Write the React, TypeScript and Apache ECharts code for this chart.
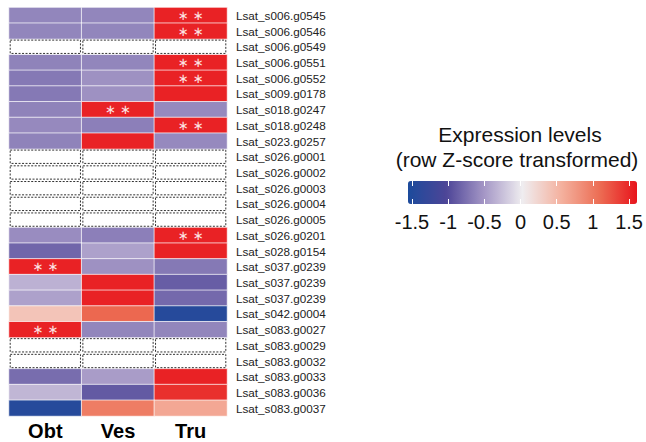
import React, { useEffect, useRef } from "react";
import * as echarts from "echarts";

const genes = [
  "Lsat_s006.g0545", "Lsat_s006.g0546", "Lsat_s006.g0549", "Lsat_s006.g0551",
  "Lsat_s006.g0552", "Lsat_s009.g0178", "Lsat_s018.g0247", "Lsat_s018.g0248",
  "Lsat_s023.g0257", "Lsat_s026.g0001", "Lsat_s026.g0002", "Lsat_s026.g0003",
  "Lsat_s026.g0004", "Lsat_s026.g0005", "Lsat_s026.g0201", "Lsat_s028.g0154",
  "Lsat_s037.g0239", "Lsat_s037.g0239", "Lsat_s037.g0239", "Lsat_s042.g0004",
  "Lsat_s083.g0027", "Lsat_s083.g0029", "Lsat_s083.g0032", "Lsat_s083.g0033",
  "Lsat_s083.g0036", "Lsat_s083.g0037",
];
const tissues = ["Obt", "Ves", "Tru"];

// null = no expression (dashed empty cell)
const obt = [-0.62, -0.62, null, -0.64, -0.7, -0.7, -0.64, -0.6, -0.64, null, null, null, null, null,
  -0.58, -0.82, 1.5, -0.35, -0.45, 0.38, 1.5, null, null, -0.78, -0.32, -1.45];
const ves = [-0.62, -0.62, null, -0.62, -0.55, -0.55, 1.5, -0.66, 1.5, null, null, null, null, null,
  -0.66, -0.45, -0.55, 1.5, 1.5, 1.1, -0.62, null, null, -0.48, -0.9, 0.95];
const tru = [1.5, 1.5, null, 1.5, 1.5, 1.5, -0.6, 1.5, -0.6, null, null, null, null, null,
  1.5, 1.5, -0.7, -0.88, -0.8, -1.45, -0.62, null, null, 1.5, 1.42, 0.62];
// tissue with significant (**) expression in each row
const significant = ["Tru", "Tru", "", "Tru", "Tru", "", "Ves", "Tru", "", "", "", "", "", "",
  "Tru", "", "Obt", "", "", "", "Obt", "", "", "", "", ""];

const scaleTicks = [-1.5, 1.5, 0.5]; // min, max, interval
const scaleColors = ["#1c4b9c", "#4d4597", "#a597c6", "#efedf0", "#f4b2a0", "#ec6f55", "#e8141c"];

export default function App() {
  const ref = useRef<HTMLDivElement>(null);
  useEffect(() => {
    document.body.style.margin = "0";
    const chart = echarts.init(ref.current!, null, { renderer: "svg" });
    const cols = [obt, ves, tru];
    const heat: any[] = [];
    const empty: any[] = [];
    genes.forEach((g, r) => {
      cols.forEach((col, c) => {
        const v = col[r];
        if (v === null) {
          empty.push([c, r]);
        } else {
          const item: any = { value: [c, r, v] };
          if (significant[r] === tissues[c]) {
            item.label = {
              show: true,
              formatter: "\u2217 \u2217",
              color: "#fde4e4",
              fontSize: 13,
              lineHeight: 12,
              fontFamily: "DejaVu Sans",
            };
          }
          heat.push(item);
        }
      });
    });
    const font = "'Liberation Sans', Arial, sans-serif";
    chart.setOption({
      animation: false,
      textStyle: { fontFamily: font },
      grid: [
        { left: 9, top: 7.5, width: 218, height: 408.5 },
        { left: 412, top: 181, width: 219, height: 23 },
      ],
      xAxis: [
        {
          gridIndex: 0, type: "category", data: tissues, position: "bottom",
          axisLine: { show: false }, axisTick: { show: false }, splitLine: { show: false },
          axisLabel: { fontSize: 20, fontWeight: "bold", color: "#000", margin: 5, fontFamily: font },
        },
        {
          gridIndex: 1, type: "value", min: scaleTicks[0], max: scaleTicks[1], interval: scaleTicks[2],
          position: "bottom", z: 10,
          axisLine: { show: false }, splitLine: { show: false },
          axisTick: { show: true, inside: true, length: 5, lineStyle: { color: "#fff", width: 1 } },
          axisLabel: { fontSize: 20, color: "#111", margin: 8, fontFamily: font },
        },
        {
          gridIndex: 1, type: "value", min: scaleTicks[0], max: scaleTicks[1], interval: scaleTicks[2],
          position: "top", z: 10,
          axisLine: { show: false }, splitLine: { show: false },
          axisTick: { show: true, inside: true, length: 5, lineStyle: { color: "#fff", width: 1 } },
          axisLabel: { show: false },
        },
      ],
      yAxis: [
        {
          gridIndex: 0, type: "category", data: genes, inverse: true, position: "right",
          axisLine: { show: false }, axisTick: { show: false }, splitLine: { show: false },
          axisLabel: { fontSize: 11.7, color: "#222", margin: 9, fontFamily: font, interval: 0 },
        },
        { gridIndex: 1, type: "value", show: false, min: 0, max: 1 },
      ],
      visualMap: {
        type: "continuous",
        seriesIndex: 0,
        min: -1.555,
        max: 1.58,
        orient: "horizontal",
        left: 408,
        top: 181,
        padding: 0,
        itemWidth: 23,
        itemHeight: 229,
        calculable: false,
        hoverLink: false,
        text: null,
        inRange: { color: scaleColors },
      },
      graphic: [
        {
          type: "text", x: 520, y: 134,
          style: { text: "Expression levels", fontSize: 21, fontFamily: font, fill: "#111", textAlign: "center", textVerticalAlign: "middle" },
        },
        {
          type: "text", x: 517, y: 159,
          style: { text: "(row Z-score transformed)", fontSize: 21, fontFamily: font, fill: "#111", textAlign: "center", textVerticalAlign: "middle" },
        },
      ],
      series: [
        {
          type: "heatmap",
          xAxisIndex: 0, yAxisIndex: 0,
          data: heat,
          itemStyle: { borderColor: "rgba(255,255,255,0.7)", borderWidth: 1 },
          emphasis: { disabled: true },
        },
        {
          type: "custom",
          xAxisIndex: 0, yAxisIndex: 0,
          data: empty,
          encode: { x: 0, y: 1 },
          renderItem: (params: any, api: any) => {
            const c = api.coord([api.value(0), api.value(1)]);
            const s = api.size([1, 1]);
            return {
              type: "rect",
              shape: { x: c[0] - s[0] / 2 + 1.2, y: c[1] - s[1] / 2 + 1.2, width: s[0] - 2.4, height: s[1] - 2.4 },
              style: { fill: "#fff", stroke: "#333", lineWidth: 1, lineDash: [2, 1.5] },
            };
          },
        },
      ],
    });
    return () => chart.dispose();
  }, []);
  return <div ref={ref} style={{ width: 646, height: 442 }} />;
}
